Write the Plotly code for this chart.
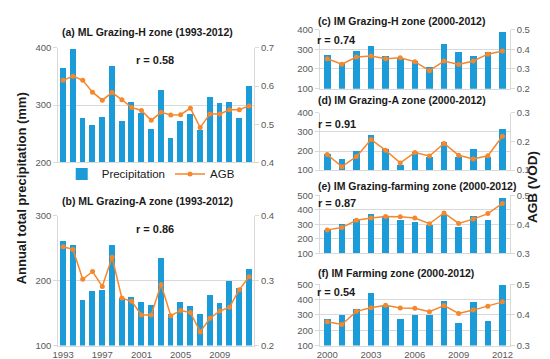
import plotly.graph_objects as go

W, H = 550, 359

years_ml = list(range(1993, 2013))
years_im = list(range(2000, 2013))

precip_a = [365, 398, 277, 265, 280, 368, 272, 305, 287, 258, 327, 243, 272, 284, 257, 315, 304, 306, 278, 333]
agb_a = [0.615, 0.626, 0.615, 0.584, 0.563, 0.583, 0.564, 0.544, 0.536, 0.510, 0.531, 0.524, 0.525, 0.542, 0.491, 0.527, 0.527, 0.538, 0.538, 0.548]

precip_b = [261, 255, 171, 184, 186, 255, 173, 176, 167, 163, 236, 149, 168, 162, 149, 178, 166, 200, 189, 219]
agb_b = [0.352, 0.348, 0.302, 0.314, 0.291, 0.336, 0.273, 0.268, 0.247, 0.247, 0.294, 0.246, 0.254, 0.251, 0.221, 0.242, 0.253, 0.259, 0.286, 0.306]

precip_c = [275, 235, 296, 319, 270, 260, 243, 212, 328, 286, 268, 286, 392]
agb_c = [0.352, 0.324, 0.360, 0.365, 0.352, 0.357, 0.337, 0.291, 0.340, 0.322, 0.340, 0.375, 0.391]

precip_d = [184, 159, 203, 284, 209, 129, 198, 171, 247, 167, 209, 169, 317]
agb_d = [0.154, 0.112, 0.147, 0.207, 0.169, 0.125, 0.161, 0.149, 0.193, 0.152, 0.139, 0.150, 0.218]

precip_e = [262, 304, 338, 367, 356, 327, 313, 293, 364, 282, 356, 327, 482]
agb_e = [0.381, 0.389, 0.414, 0.422, 0.427, 0.426, 0.422, 0.402, 0.439, 0.403, 0.418, 0.437, 0.472]

precip_f = [270, 294, 334, 440, 361, 274, 294, 298, 391, 245, 379, 257, 491]
agb_f = [0.378, 0.369, 0.412, 0.424, 0.432, 0.423, 0.422, 0.411, 0.431, 0.405, 0.416, 0.429, 0.443]

titles = [
    "(a) ML Grazing-H zone (1993-2012)",
    "(b) ML Grazing-A zone (1993-2012)",
    "(c) IM Grazing-H zone (2000-2012)",
    "(d) IM Grazing-A zone (2000-2012)",
    "(e) IM Grazing-farming zone (2000-2012)",
    "(f) IM Farming zone (2000-2012)",
]
r_labels = ["r = 0.58", "r = 0.86", "r = 0.74", "r = 0.91", "r = 0.87", "r = 0.54"]

left_ranges = [(200, 400), (100, 300), (100, 400), (100, 400), (100, 500), (100, 500)]
right_ranges = [(0.4, 0.7), (0.2, 0.4), (0.2, 0.5), (0.1, 0.3), (0.3, 0.5), (0.3, 0.5)]

BLUE = "#1b9bd7"
ORANGE = "#f5872c"
GRID = "#d9d9d9"
TICKC = "#595959"
FONT = "Arial, Liberation Sans, sans-serif"

# panel boxes in pixels: x0, x1, y0(top), y1(bottom)
boxes = [
    (45, 244, 35, 153),
    (45, 244, 208, 342),
    (311, 504, 16, 77),
    (311, 504, 102, 161),
    (311, 504, 187, 247),
    (311, 504, 279, 342),
]

panels = [
    (years_ml, precip_a, agb_a),
    (years_ml, precip_b, agb_b),
    (years_im, precip_c, agb_c),
    (years_im, precip_d, agb_d),
    (years_im, precip_e, agb_e),
    (years_im, precip_f, agb_f),
]

fig = go.Figure()
layout = {}
annotations = []

for i, ((yrs, pr, ag), box) in enumerate(zip(panels, boxes)):
    n = i + 1
    xa = "x" if n == 1 else f"x{n}"
    ya = "y" if n == 1 else f"y{n}"
    yr = f"y{n + 6}"
    x0, x1, y0, y1 = box
    ml = i < 2
    fig.add_trace(go.Bar(
        x=yrs, y=pr, xaxis=xa, yaxis=ya, name="Precipitation",
        marker=dict(color=BLUE, line=dict(width=0)),
        width=0.6 if ml else 0.45,
        showlegend=(i == 0),
    ))
    fig.add_trace(go.Scatter(
        x=yrs, y=ag, xaxis=xa, yaxis=yr, name="AGB", mode="lines+markers",
        line=dict(color=ORANGE, width=1.5),
        marker=dict(color=ORANGE, size=5),
        showlegend=(i == 0),
    ))
    if i == 1:
        tv = list(range(1993, 2013, 4))
        showlab = True
    elif i == 5:
        tv = list(range(2000, 2013, 3))
        showlab = True
    else:
        tv = []
        showlab = False
    xkey = "xaxis" if n == 1 else f"xaxis{n}"
    ykey = "yaxis" if n == 1 else f"yaxis{n}"
    layout[xkey] = dict(
        domain=[x0 / W, x1 / W], anchor=ya,
        range=[yrs[0] - 0.5, yrs[-1] + 0.5],
        tickvals=tv, showticklabels=showlab, showgrid=False,
        showline=True, linecolor=GRID, linewidth=1, zeroline=False,
        tickfont=dict(family=FONT, size=9.5, color=TICKC), ticks="",
    )
    lo, hi = left_ranges[i]
    layout[ykey] = dict(
        domain=[1 - y1 / H, 1 - y0 / H], anchor=xa,
        range=[lo, hi], dtick=100, tick0=0,
        showgrid=True, gridcolor=GRID, gridwidth=1,
        showline=True, linecolor=GRID, linewidth=1, zeroline=False,
        ticks="outside", ticklen=4, tickcolor=GRID,
        tickfont=dict(family=FONT, size=9.5, color=TICKC),
    )
    rlo, rhi = right_ranges[i]
    layout[f"yaxis{n + 6}"] = dict(
        overlaying=ya, side="right", anchor=xa,
        range=[rlo, rhi], dtick=0.1, tick0=0, tickformat=".1f",
        showgrid=False, showline=True, linecolor=GRID, linewidth=1, zeroline=False,
        ticks="outside", ticklen=4, tickcolor=GRID,
        tickfont=dict(family=FONT, size=9.5, color=TICKC),
    )

# panel titles
title_pos = [
    (136, 19, "center"),
    (136, 193, "center"),
    (307, 7, "left"),
    (307, 89, "left"),
    (307, 177, "left"),
    (307, 267, "left"),
]
for t, (px, py, anc) in zip(titles, title_pos):
    annotations.append(dict(
        x=px / W, y=1 - py / H, xref="paper", yref="paper",
        text=f"<b>{t}</b>", showarrow=False, xanchor=anc, yanchor="middle",
        font=dict(family=FONT, size=10.5, color="#1a1a1a"),
    ))

r_pos = [(143, 47), (143, 222), (328, 27), (328, 113), (328, 195), (328, 287)]
for t, (px, py) in zip(r_labels, r_pos):
    annotations.append(dict(
        x=px / W, y=1 - py / H, xref="paper", yref="paper",
        text=f"<b>{t}</b>", showarrow=False, xanchor="center", yanchor="middle",
        font=dict(family=FONT, size=11, color="#1a1a1a"),
    ))

annotations.append(dict(
    x=8 / W, y=1 - 180 / H, xref="paper", yref="paper",
    text="<b>Annual total precipitation (mm)</b>", showarrow=False, textangle=-90,
    xanchor="center", yanchor="middle",
    font=dict(family=FONT, size=13, color="#1a1a1a"),
))
annotations.append(dict(
    x=527 / W, y=1 - 178 / H, xref="paper", yref="paper",
    text="<b>AGB (VOD)</b>", showarrow=False, textangle=-90,
    xanchor="center", yanchor="middle",
    font=dict(family=FONT, size=13.5, color="#1a1a1a"),
))

fig.update_layout(
    width=W, height=H,
    margin=dict(l=0, r=0, t=0, b=0),
    paper_bgcolor="white", plot_bgcolor="white",
    bargap=0, barmode="overlay",
    annotations=annotations,
    showlegend=True,
    legend=dict(
        orientation="h", x=139 / W, y=1 - 165 / H, xanchor="center", yanchor="middle",
        font=dict(family=FONT, size=11.5, color="#1a1a1a"),
        itemwidth=30, bgcolor="rgba(0,0,0,0)", tracegroupgap=0,
    ),
    **layout,
)

fig.write_html("out.html")
